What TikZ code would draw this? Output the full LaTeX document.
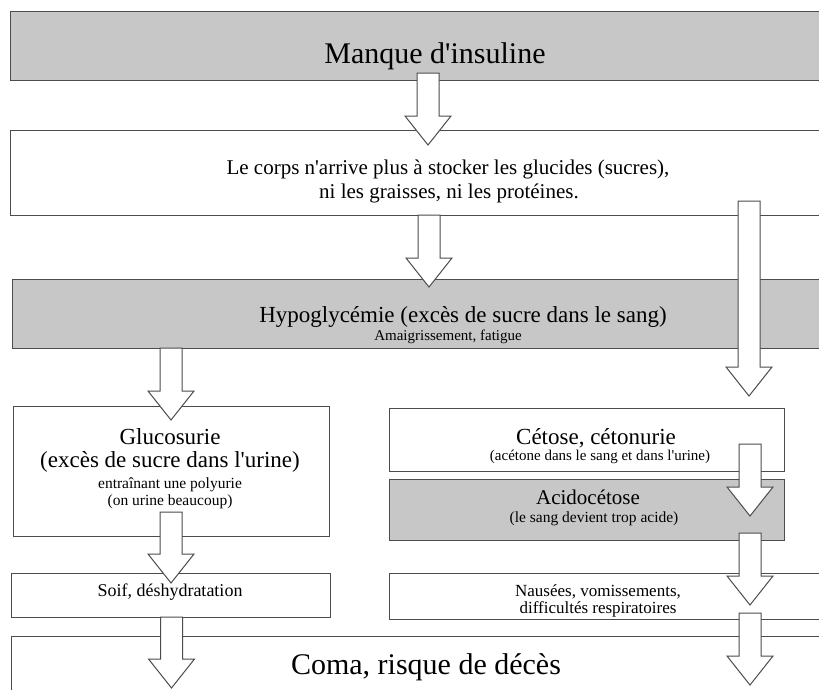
\documentclass[tikz,border=0pt]{standalone}
\usepackage{fontspec}
\setmainfont{Liberation Serif}[Ligatures=TeXOff]
\usetikzlibrary{calc}
\tikzset{
  box/.style={draw=black!70, line width=1.1pt, fill=white, inner sep=0pt, anchor=north west},
  graybox/.style={box, fill=black!22},
  arrowbox/.style={draw=black!70, line width=1pt, fill=white, line join=miter},
  txt/.style={inner sep=0pt, anchor=base},
}
\newcommand\fsz[1]{\fontsize{#1}{#1}\selectfont}
\newcommand\blkarrow[2]{\draw[arrowbox] let \p1=(#1), \p2=(#2) in
  (\x1-11pt,\y1) -- (\x1+11pt,\y1) -- (\x1+11pt,\y2+29pt) -- (\x1+23pt,\y2+29pt)
  -- (\x1,\y2) -- (\x1-23pt,\y2+29pt) -- (\x1-11pt,\y2+29pt) -- cycle;}
\begin{document}
\begin{tikzpicture}[x=1pt,y=-1pt]
\fill[white] (0,0) rectangle (819,689);
\useasboundingbox (0,0) rectangle (819,689);

% boxes
\node[graybox, minimum width=812pt, minimum height=69pt] (b1) at (10,11) {};
\node[box, minimum width=812pt, minimum height=85pt] (b2) at (10,130) {};
\node[graybox, minimum width=810pt, minimum height=69pt] (b3) at (12,279) {};
\node[box, minimum width=316pt, minimum height=130pt] (b4) at (13,406) {};
\node[box, minimum width=395pt, minimum height=63pt] (b5) at (389,408) {};
\node[graybox, minimum width=395pt, minimum height=61pt] (b6) at (389,479) {};
\node[box, minimum width=319pt, minimum height=44pt] (b7) at (11,573) {};
\node[box, minimum width=433pt, minimum height=46pt] (b8) at (389,573) {};
\node[box, minimum width=811pt, minimum height=60pt] (b9) at (11,636) {};

% texts
\node[txt] (t1) at (435,63) {\fsz{30}Manque d'insuline};
\node[txt] (t2a) at (448,174) {\fsz{21}Le corps n'arrive plus à stocker les glucides (sucres),};
\node[txt] (t2b) at (449,198) {\fsz{21}ni les graisses, ni les protéines.};
\node[txt] (t3a) at (463,322) {\fsz{23}Hypoglycémie (excès de sucre dans le sang)};
\node[txt] (t3b) at (448,340) {\fsz{15}Amaigrissement, fatigue};
\node[txt] (t4a) at (170,444) {\fsz{23}Glucosurie};
\node[txt] (t4b) at (170,467) {\fsz{23}(excès de sucre dans l'urine)};
\node[txt] (t4c) at (170,488) {\fsz{15.5}entraînant une polyurie};
\node[txt] (t4d) at (170,505) {\fsz{15.5}(on urine beaucoup)};
\node[txt] (t5a) at (596,444) {\fsz{23}Cétose, cétonurie};
\node[txt] (t5b) at (600,460) {\fsz{15}(acétone dans le sang et dans l'urine)};
\node[txt] (t6a) at (588,504) {\fsz{21}Acidocétose};
\node[txt] (t6b) at (594,522) {\fsz{15.5}(le sang devient trop acide)};
\node[txt] (t7) at (170,596) {\fsz{18}Soif, déshydratation};
\node[txt] (t8a) at (598,596) {\fsz{17}Nausées, vomissements,};
\node[txt] (t8b) at (598,613) {\fsz{17}difficultés respiratoires};
\node[txt] (t9) at (426,674) {\fsz{30}Coma, risque de décès};

% arrow end points
\coordinate (a1s) at (428,73);   \coordinate (a1e) at (428,145);
\coordinate (a2s) at (429,215);  \coordinate (a2e) at (429,287);
\coordinate (a3s) at (749,201);  \coordinate (a3e) at (749,396);
\coordinate (a4s) at (171,348);  \coordinate (a4e) at (171,420);
\coordinate (a5s) at (171,512);  \coordinate (a5e) at (171,583);
\coordinate (a6s) at (171.5,617);\coordinate (a6e) at (171.5,688);
\coordinate (a7s) at (750,444);  \coordinate (a7e) at (750,516);
\coordinate (a8s) at (750,533);  \coordinate (a8e) at (750,605);
\coordinate (a9s) at (750,613);  \coordinate (a9e) at (750,685);

% block arrows
\blkarrow{a1s}{a1e}
\blkarrow{a2s}{a2e}
\blkarrow{a3s}{a3e}
\blkarrow{a4s}{a4e}
\blkarrow{a5s}{a5e}
\blkarrow{a6s}{a6e}
\blkarrow{a7s}{a7e}
\blkarrow{a8s}{a8e}
\blkarrow{a9s}{a9e}
\end{tikzpicture}
\end{document}
